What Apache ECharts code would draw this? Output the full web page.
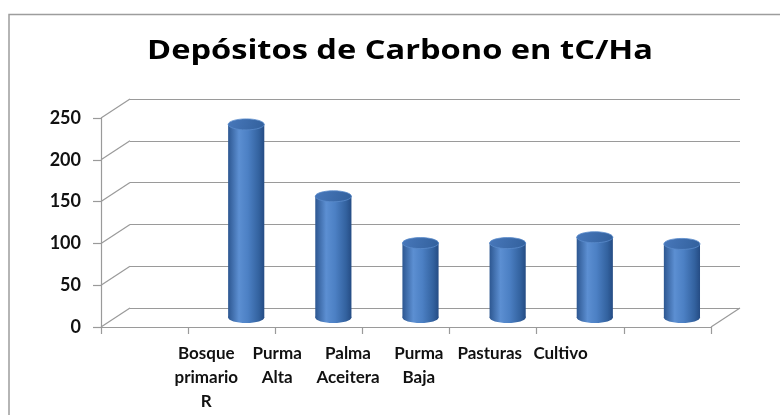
<!DOCTYPE html>
<html>
<head>
<meta charset="utf-8">
<script src="https://cdn.jsdelivr.net/npm/echarts@6/dist/echarts.min.js"></script>
<style>
html,body{margin:0;padding:0;background:#fff;}
#c{width:780px;height:415px;}
</style>
</head>
<body>
<div id="c"></div>
<script>
// ---- data ----
var titleText = 'Depósitos de Carbono en tC/Ha';
var categories = ['', 'Bosque\nprimario\nR', 'Purma\nAlta', 'Palma\nAceitera', 'Purma\nBaja', 'Pasturas', 'Cultivo'];
var values = [null, 231, 145, 89, 89, 96, 88];
var yTicks = [0, 50, 100, 150, 200, 250];

// ---- style ----
var DX = 29, DY = -19;           // depth of 3D box
var gridColor = '#9a9a9a';
var fontFam = 'Lato, "Open Sans", sans-serif';
var titleFont = 'bold 26px "Open Sans", sans-serif';
var titleWidth = 506;

var cv = document.createElement('canvas').getContext('2d');
cv.font = titleFont;
var titleScale = titleWidth / cv.measureText(titleText).width;

var chart = echarts.init(document.getElementById('c'), null, {renderer: 'canvas'});

var frontGrid = {left: 101, top: 118, width: 610, height: 209};
var backGrid  = {left: 101 + DX, top: 118 + DY, width: 610, height: 209};
var midGrid   = {left: 101 + DX / 2, top: 118 + DY / 2, width: 610, height: 209};
var labelGrid = {left: 100, top: 327, width: 496, height: 1};

var barGrad = new echarts.graphic.LinearGradient(0, 0, 1, 0, [
  {offset: 0, color: '#2d5791'},
  {offset: 0.3, color: '#5c8fd2'},
  {offset: 0.55, color: '#4c80c4'},
  {offset: 0.85, color: '#33629f'},
  {offset: 1, color: '#254c84'}
]);
var topGrad = new echarts.graphic.LinearGradient(0, 0, 1, 1, [
  {offset: 0, color: '#4878bb'},
  {offset: 1, color: '#32609c'}
]);

function cylinder(params, api) {
  var v = api.value(1);
  if (v == null || isNaN(v)) return;
  var i = api.value(0);
  var top = api.coord([i, v]);
  var base = api.coord([i, 0]);
  var w = api.size([1, 0])[0] * 0.415;
  var rx = w / 2, ry = 5.5;
  var cx = top[0];
  return {
    type: 'group',
    children: [
      {type: 'ellipse', shape: {cx: cx, cy: base[1], rx: rx, ry: ry}, style: {fill: barGrad}},
      {type: 'rect', shape: {x: cx - rx, y: top[1], width: w, height: base[1] - top[1]}, style: {fill: barGrad}},
      {type: 'ellipse', shape: {cx: cx, cy: top[1], rx: rx, ry: ry}, style: {fill: topGrad, stroke: '#5b8bcc', lineWidth: 0.8}}
    ]
  };
}

function sideLines(params, api) {
  var v = api.value(0);
  var cs = params.coordSys;
  var p = api.coord([0, v]);
  var x0 = cs.x;
  var children = [
    {type: 'line', shape: {x1: x0, y1: p[1], x2: x0 + DX, y2: p[1] + DY}, style: {stroke: gridColor, lineWidth: 1.2}}
  ];
  if (v === 0) {
    children.push({type: 'line', shape: {x1: cs.x + cs.width, y1: p[1], x2: cs.x + cs.width + DX, y2: p[1] + DY}, style: {stroke: gridColor, lineWidth: 1.2}});
  }
  return {type: 'group', children: children};
}

var option = {
  backgroundColor: '#fff',
  animation: false,
  graphic: [
    {type: 'rect', shape: {x: 9, y: 14.5, width: 800, height: 500}, style: {fill: 'none', stroke: '#9d9d9d', lineWidth: 1.5}, silent: true},
    {type: 'text', x: 400, y: 52, scaleX: titleScale, scaleY: 1,
     style: {text: titleText, font: titleFont, fill: '#000', align: 'center', verticalAlign: 'middle'}}
  ],
  grid: [frontGrid, backGrid, midGrid, labelGrid],
  xAxis: [
    {gridIndex: 0, type: 'category', data: categories, boundaryGap: true,
     axisLine: {show: true, lineStyle: {color: gridColor, width: 1.2}},
     axisTick: {show: true, length: 7, lineStyle: {color: gridColor, width: 1.2}},
     axisLabel: {show: false}, splitLine: {show: false}},
    {gridIndex: 1, type: 'category', data: categories, show: false},
    {gridIndex: 2, type: 'category', data: categories, show: false},
    {gridIndex: 3, type: 'category', data: categories,
     axisLine: {show: false}, axisTick: {show: false},
     axisLabel: {show: true, interval: 0, margin: 14, color: '#111', fontFamily: fontFam, fontWeight: 'bold', fontSize: 17, lineHeight: 24}}
  ],
  yAxis: [
    {gridIndex: 0, type: 'value', min: 0, max: 250, interval: 50,
     axisLine: {show: true, lineStyle: {color: gridColor, width: 1.2}},
     axisTick: {show: true, length: 8, lineStyle: {color: gridColor, width: 1.2}},
     axisLabel: {margin: 20, color: '#111', fontFamily: fontFam, fontWeight: 'bold', fontSize: 18},
     splitLine: {show: false}},
    {gridIndex: 1, type: 'value', min: 0, max: 250, interval: 50,
     axisLine: {show: false}, axisTick: {show: false}, axisLabel: {show: false},
     splitLine: {show: true, lineStyle: {color: gridColor, width: 1.2}}},
    {gridIndex: 2, type: 'value', min: 0, max: 250, interval: 50, show: false, splitLine: {show: false}},
    {gridIndex: 3, type: 'value', show: false, splitLine: {show: false}}
  ],
  series: [
    {type: 'custom', xAxisIndex: 0, yAxisIndex: 0, renderItem: sideLines,
     data: yTicks.map(function (t) { return [t]; }), encode: {y: 0}, silent: true, z: 1},
    {type: 'custom', xAxisIndex: 2, yAxisIndex: 2, renderItem: cylinder,
     data: values.map(function (v, i) { return [i, v]; }), encode: {x: 0, y: 1}, z: 5}
  ]
};
chart.setOption(option);
</script>
</body>
</html>
